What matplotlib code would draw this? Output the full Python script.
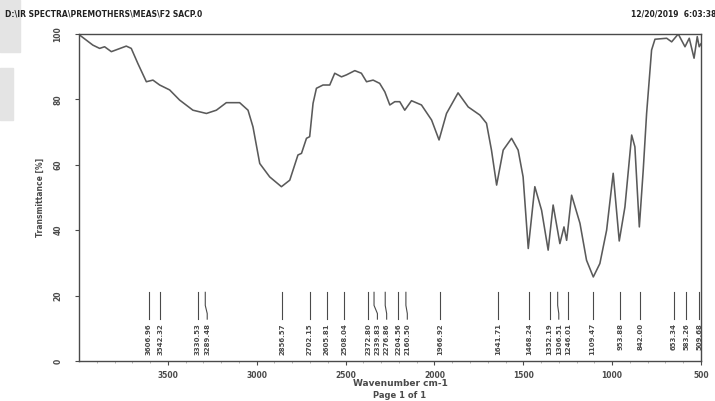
import numpy as np
import matplotlib.pyplot as plt
from matplotlib.patches import Rectangle

# ------------------------
# Spectrum (wavenumber cm-1, transmittance %)
# ------------------------
wavenumber = [3997, 3922, 3884, 3856, 3818, 3734, 3706, 3669, 3621, 3584,
              3546, 3490, 3434, 3359, 3283, 3227, 3171, 3096, 3049, 3021,
              2983, 2927, 2861, 2814, 2768, 2748, 2720, 2702, 2683, 2664,
              2627, 2589, 2561, 2523, 2495, 2448, 2411, 2382, 2345, 2308,
              2279, 2251, 2223, 2195, 2167, 2129, 2073, 2016, 1974, 1932,
              1867, 1810, 1744, 1707, 1679, 1650, 1613, 1566, 1529, 1501,
              1472, 1435, 1397, 1360, 1332, 1294, 1271, 1256, 1228, 1181,
              1144, 1106, 1069, 1031, 994, 960, 928, 890, 872, 847,
              825, 806, 778, 759, 693, 665, 628, 590, 566, 539,
              521, 510, 500]
transmittance = [99.7, 96.6, 95.6, 96.1, 94.6, 96.3, 95.6, 91.0, 85.4, 85.9,
                 84.4, 82.9, 79.8, 76.7, 75.7, 76.7, 79.0, 79.0, 76.7, 71.6,
                 60.4, 56.3, 53.3, 55.3, 63.0, 63.5, 68.1, 68.6, 78.8, 83.4,
                 84.4, 84.4, 88.0, 86.9, 87.5, 88.8, 88.0, 85.4, 85.9, 84.9,
                 82.3, 78.3, 79.3, 79.3, 76.7, 79.6, 78.3, 73.7, 67.6, 75.7,
                 82.0, 77.7, 75.2, 72.7, 64.5, 53.8, 64.5, 68.1, 64.5, 56.3,
                 34.4, 53.3, 46.1, 33.9, 47.7, 35.9, 41.0, 36.9, 50.7, 42.1,
                 30.8, 25.7, 29.8, 40.0, 57.4, 36.7, 47.1, 69.1, 65.5, 41.0,
                 58.4, 75.7, 95.1, 98.4, 98.7, 97.6, 100.0, 96.1, 98.7, 92.6,
                 99.2, 96.1, 97.0]

# picked peaks
peaks = [3606.96, 3542.32, 3330.53, 3289.48, 2856.57, 2702.15, 2605.81,
         2508.04, 2372.80, 2339.83, 2276.86, 2204.56, 2160.50, 1966.92,
         1641.71, 1468.24, 1352.19, 1306.51, 1246.01, 1109.47, 953.88,
         842.00, 653.34, 583.26, 509.68]

y_ticks = [0, 20, 40, 60, 80, 100]
x_ticks = [3500, 3000, 2500, 2000, 1500, 1000, 500]

ink = '#4a4a4a'
curve = '#5a5a5a'

fig = plt.figure(figsize=(7.15, 4.01), dpi=100)
fig.patch.set_facecolor('white')

# faint watermark in the upper-left corner of the scan
fig.patches.append(Rectangle((0, 1 - 52 / 401), 20 / 715, 52 / 401,
                             transform=fig.transFigure, color='#e4e4e4', zorder=0))
fig.patches.append(Rectangle((0, 1 - 120 / 401), 13 / 715, 52 / 401,
                             transform=fig.transFigure, color='#e4e4e4', zorder=0))

ax = fig.add_axes([0.1105, 0.0998, 0.8699, 0.8154])
ax.plot(wavenumber, transmittance, color=curve, linewidth=1.15)

ax.set_xlim(4000, 500)
ax.set_ylim(0, 100)

# ------------------------
# Peak labels, spread apart when they crowd
# ------------------------
gap = 52.0
label_pos = []
for p in peaks:
    if label_pos and label_pos[-1] - p < gap:
        label_pos.append(label_pos[-1] - gap)
    else:
        label_pos.append(p)

for p, lp in zip(peaks, label_pos):
    ax.plot([p, p, lp, lp], [21, 17, 14.5, 12.8], color=ink, linewidth=0.8)
    ax.text(lp, 11.6, f'{p:.2f}', rotation=90, ha='center', va='top',
            fontsize=5, fontweight='bold', color=ink)

# ------------------------
# Axes styling
# ------------------------
for s in ax.spines.values():
    s.set_color(ink)
    s.set_linewidth(1.0)

ax.set_yticks(y_ticks)
ax.set_yticklabels([str(v) for v in y_ticks], rotation=90, va='center',
                   fontsize=5.5, fontweight='bold', color=ink)
ax.set_xticks(x_ticks)
ax.set_xticklabels([str(v) for v in x_ticks], fontsize=5.5,
                   fontweight='bold', color=ink)
ax.set_xticks(np.arange(600, 4000, 100), minor=True)
ax.tick_params(axis='y', which='major', length=3, width=0.8, color=ink, pad=9)
ax.tick_params(axis='x', which='major', length=3, width=0.8, color=ink, pad=4)
ax.tick_params(axis='x', which='minor', length=1.5, width=0.5, color='#999999')

ax.set_ylabel('Transmittance [%]', fontsize=5.5, fontweight='bold',
              color=ink, labelpad=6)

fig.text(400 / 715, 1 - 383 / 401, 'Wavenumber cm-1', ha='center', va='center',
         fontsize=6.5, fontweight='bold', color=ink)
fig.text(400 / 715, 1 - 396 / 401, 'Page 1 of 1', ha='center', va='center',
         fontsize=6, fontweight='bold', color=ink)

fig.text(5 / 715, 1 - 14 / 401, 'D:\\IR SPECTRA\\PREMOTHERS\\MEAS\\F2 SACP.0',
         ha='left', va='center', fontsize=5.5, fontweight='bold', color='#222222')
fig.text(716 / 715, 1 - 14 / 401, '12/20/2019  6:03:38', ha='right',
         va='center', fontsize=5.5, fontweight='bold', color='#222222')

fig.savefig('out.png', dpi=100)
